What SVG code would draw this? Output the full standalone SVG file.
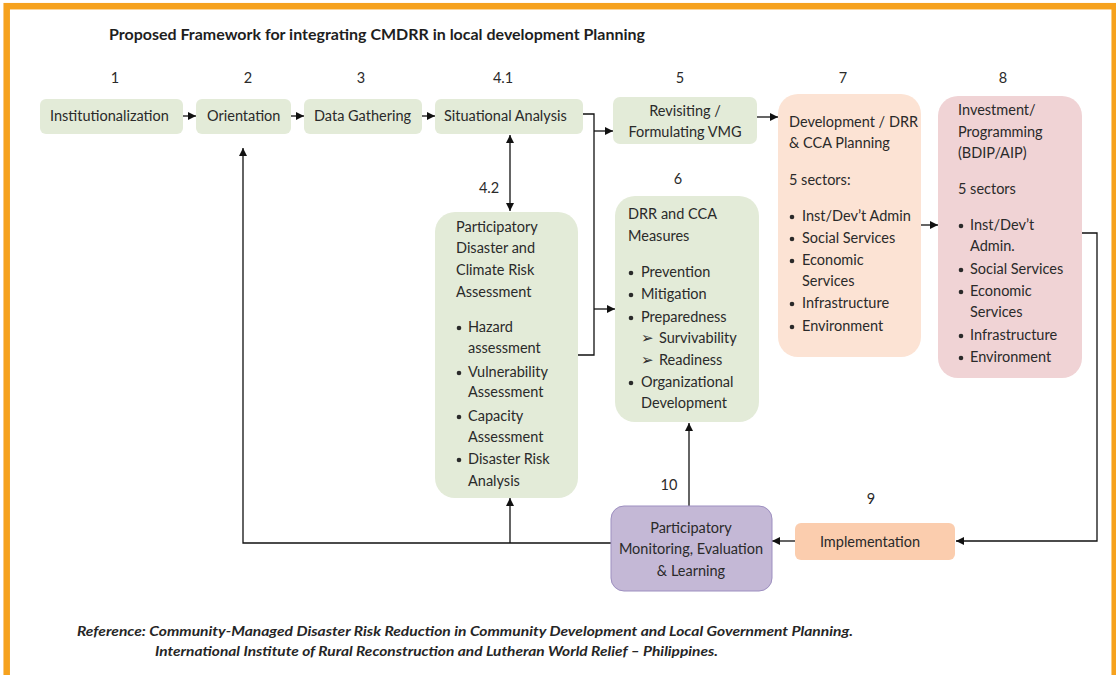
<svg xmlns="http://www.w3.org/2000/svg" width="1116" height="675" viewBox="0 0 1116 675">
  <style>
    text { font-family: Lato, "Liberation Sans", sans-serif; font-size: 14.5px; fill: #2a2a2a; }
    .title { font-weight: bold; font-size: 15.8px; fill: #1e1e1e; }
    .num { text-anchor: middle; }
    .mid { text-anchor: middle; }
    .ref { font-weight: bold; font-style: italic; font-size: 14px; fill: #262626; }
    .green { fill: #E3EBD8; }
    .peach { fill: #FCE3D4; }
    .pink { fill: #F0D3D5; }
    .impl { fill: #FBCDAE; }
    .purple { fill: #C4B8D6; stroke: #9D8FC0; stroke-width: 1; }
    .line { fill: none; stroke: #111; stroke-width: 1.3; }
    .arrow { fill: none; stroke: #111; stroke-width: 1.3; marker-end: url(#head); }
    .dbl { fill: none; stroke: #111; stroke-width: 1.3; marker-start: url(#headStart); marker-end: url(#head); }
    .dot { fill: #2a2a2a; }
  </style>
  <defs>
    <marker id="head" viewBox="0 0 10 10" refX="10" refY="5" markerWidth="8" markerHeight="8" markerUnits="userSpaceOnUse" orient="auto">
      <path d="M0,0 L10,5 L0,10 z" fill="#111"/>
    </marker>
    <marker id="headStart" viewBox="0 0 10 10" refX="0" refY="5" markerWidth="8" markerHeight="8" markerUnits="userSpaceOnUse" orient="auto">
      <path d="M10,0 L0,5 L10,10 z" fill="#111"/>
    </marker>
  </defs>

  <!-- page background and orange frame -->
  <rect x="0" y="0" width="1116" height="675" fill="#ffffff"/>
  <rect x="6.7" y="6.2" width="1108" height="720" fill="none" stroke="#F6A21E" stroke-width="6.5"/>

  <text class="title" x="109" y="40" textLength="536" lengthAdjust="spacingAndGlyphs">Proposed Framework for integrating CMDRR in local development Planning</text>

  <!-- step numbers -->
  <g id="step-numbers">
    <text class="num" x="115" y="83">1</text>
    <text class="num" x="248" y="83">2</text>
    <text class="num" x="361" y="83">3</text>
    <text class="num" x="503" y="83">4.1</text>
    <text class="num" x="680" y="83">5</text>
    <text class="num" x="843" y="83">7</text>
    <text class="num" x="1003" y="83">8</text>
    <text class="num" x="678" y="184">6</text>
    <text class="num" x="489" y="193">4.2</text>
    <text class="num" x="669" y="490">10</text>
    <text class="num" x="871" y="504">9</text>
  </g>

  <!-- connectors -->
  <g id="connectors">
    <line class="arrow" x1="183" y1="116" x2="196" y2="116"/>
    <line class="arrow" x1="291" y1="116" x2="304" y2="116"/>
    <line class="arrow" x1="422" y1="116" x2="435" y2="116"/>
    <line class="dbl" x1="510" y1="135" x2="510" y2="211"/>
    <polyline class="line" points="583,114 594,114 594,355 578,355"/>
    <line class="arrow" x1="594" y1="131" x2="613" y2="131"/>
    <line class="arrow" x1="594" y1="309" x2="615" y2="309"/>
    <line class="arrow" x1="757" y1="117" x2="778" y2="117"/>
    <line class="arrow" x1="921" y1="225" x2="938" y2="225"/>
    <polyline class="arrow" points="1082,233 1097,233 1097,541 956,541"/>
    <line class="arrow" x1="795" y1="541" x2="772" y2="541"/>
    <polyline class="arrow" points="611,543 243,543 243,148"/>
    <line class="arrow" x1="510" y1="543" x2="510" y2="498"/>
    <line class="arrow" x1="689" y1="506" x2="689" y2="423"/>
  </g>

  <!-- 1 -->
  <g id="n1">
    <rect class="green" x="40" y="99" width="143" height="35" rx="6"/>
    <text x="50" y="121">Institutionalization</text>
  </g>
  <!-- 2 -->
  <g id="n2">
    <rect class="green" x="196" y="99" width="95" height="35" rx="6"/>
    <text x="207" y="121">Orientation</text>
  </g>
  <!-- 3 -->
  <g id="n3">
    <rect class="green" x="304" y="99" width="118" height="35" rx="6"/>
    <text x="314" y="121">Data Gathering</text>
  </g>
  <!-- 4.1 -->
  <g id="n4-1">
    <rect class="green" x="435" y="99" width="148" height="35" rx="6"/>
    <text x="444" y="121">Situational Analysis</text>
  </g>
  <!-- 5 -->
  <g id="n5">
    <rect class="green" x="613" y="97" width="144" height="47" rx="7"/>
    <text class="mid" x="685" y="116">Revisiting /</text>
    <text class="mid" x="685" y="137">Formulating VMG</text>
  </g>
  <!-- 4.2 -->
  <g id="n4-2">
    <rect class="green" x="435" y="212" width="143" height="286" rx="20"/>
    <text x="456" y="232">Participatory</text>
    <text x="456" y="253">Disaster and</text>
    <text x="456" y="275">Climate Risk</text>
    <text x="456" y="297">Assessment</text>
    <circle class="dot" cx="459" cy="328" r="2.3"/>
    <text x="468" y="332">Hazard</text>
    <text x="468" y="353">assessment</text>
    <circle class="dot" cx="459" cy="373" r="2.3"/>
    <text x="468" y="377">Vulnerability</text>
    <text x="468" y="397">Assessment</text>
    <circle class="dot" cx="459" cy="417" r="2.3"/>
    <text x="468" y="421">Capacity</text>
    <text x="468" y="442">Assessment</text>
    <circle class="dot" cx="459" cy="460" r="2.3"/>
    <text x="468" y="464">Disaster Risk</text>
    <text x="468" y="486">Analysis</text>
  </g>
  <!-- 6 -->
  <g id="n6">
    <rect class="green" x="615" y="196" width="144" height="226" rx="20"/>
    <text x="628" y="219">DRR and CCA</text>
    <text x="628" y="241">Measures</text>
    <circle class="dot" cx="631" cy="273" r="2.3"/>
    <text x="641" y="277">Prevention</text>
    <circle class="dot" cx="631" cy="295" r="2.3"/>
    <text x="641" y="299">Mitigation</text>
    <circle class="dot" cx="631" cy="318" r="2.3"/>
    <text x="641" y="322">Preparedness</text>
    <text x="641" y="343">➢</text>
    <text x="659" y="343">Survivability</text>
    <text x="641" y="365">➢</text>
    <text x="659" y="365">Readiness</text>
    <circle class="dot" cx="631" cy="383" r="2.3"/>
    <text x="641" y="387">Organizational</text>
    <text x="641" y="408">Development</text>
  </g>
  <!-- 7 -->
  <g id="n7">
    <rect class="peach" x="778" y="94" width="143" height="263" rx="20"/>
    <text x="789" y="127">Development / DRR</text>
    <text x="789" y="148">&amp; CCA Planning</text>
    <text x="789" y="185">5 sectors:</text>
    <circle class="dot" cx="792" cy="217" r="2.3"/>
    <text x="802" y="221">Inst/Dev’t Admin</text>
    <circle class="dot" cx="792" cy="239" r="2.3"/>
    <text x="802" y="243">Social Services</text>
    <circle class="dot" cx="792" cy="261" r="2.3"/>
    <text x="802" y="265">Economic</text>
    <text x="802" y="286">Services</text>
    <circle class="dot" cx="792" cy="304" r="2.3"/>
    <text x="802" y="308">Infrastructure</text>
    <circle class="dot" cx="792" cy="327" r="2.3"/>
    <text x="802" y="331">Environment</text>
  </g>
  <!-- 8 -->
  <g id="n8">
    <rect class="pink" x="938" y="96" width="144" height="282" rx="20"/>
    <text x="958" y="115">Investment/</text>
    <text x="958" y="137">Programming</text>
    <text x="958" y="158">(BDIP/AIP)</text>
    <text x="958" y="194">5 sectors</text>
    <circle class="dot" cx="961" cy="226" r="2.3"/>
    <text x="970" y="230">Inst/Dev’t</text>
    <text x="970" y="251">Admin.</text>
    <circle class="dot" cx="961" cy="270" r="2.3"/>
    <text x="970" y="274">Social Services</text>
    <circle class="dot" cx="961" cy="292" r="2.3"/>
    <text x="970" y="296">Economic</text>
    <text x="970" y="317">Services</text>
    <circle class="dot" cx="961" cy="336" r="2.3"/>
    <text x="970" y="340">Infrastructure</text>
    <circle class="dot" cx="961" cy="358" r="2.3"/>
    <text x="970" y="362">Environment</text>
  </g>
  <!-- 9 -->
  <g id="n9">
    <rect class="impl" x="795" y="523" width="160" height="37" rx="6"/>
    <text class="mid" x="870" y="547">Implementation</text>
  </g>
  <!-- 10 -->
  <g id="n10">
    <rect class="purple" x="611" y="506" width="161" height="85" rx="13"/>
    <text class="mid" x="691" y="533">Participatory</text>
    <text class="mid" x="691" y="554">Monitoring, Evaluation</text>
    <text class="mid" x="691" y="576">&amp; Learning</text>
  </g>

  <!-- source note -->
  <g id="source-note">
    <text class="ref" x="77" y="636" textLength="776" lengthAdjust="spacingAndGlyphs">Reference:  Community-Managed Disaster Risk Reduction in Community Development and Local Government Planning.</text>
    <text class="ref" x="155" y="656" textLength="563" lengthAdjust="spacingAndGlyphs">International Institute of Rural Reconstruction and Lutheran World Relief – Philippines.</text>
  </g>
</svg>
